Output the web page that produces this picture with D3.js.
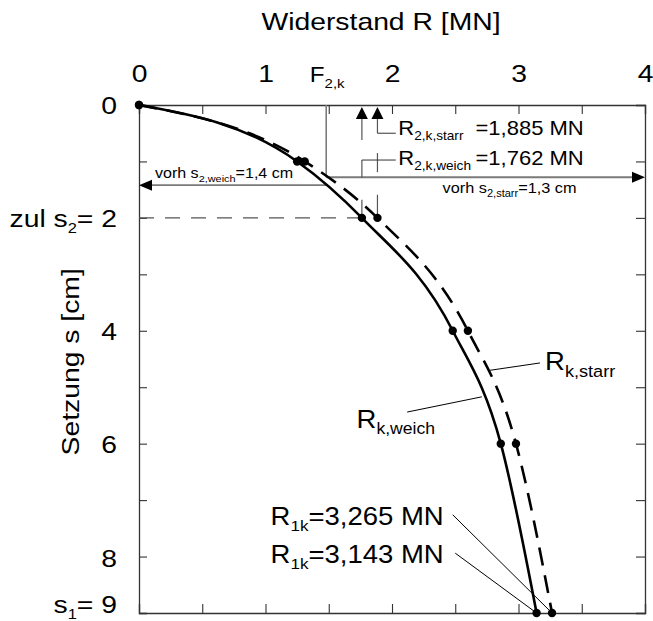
<!DOCTYPE html>
<html><head><meta charset="utf-8">
<script src="https://cdn.jsdelivr.net/npm/d3@7"></script>
<style>
html,body{margin:0;padding:0;background:#fff;}
svg{display:block;font-family:"Liberation Sans",Arial,sans-serif;}
</style></head>
<body><svg id="c" width="653" height="621"></svg>
<script>
// ---- data ----
const sValues = [0, 1, 2, 4, 6, 9];                  // Setzung s [cm]
const rWeich  = [0, 1.25, 1.762, 2.48, 2.86, 3.143]; // R_k,weich [MN]
const rStarr  = [0, 1.31, 1.885, 2.60, 2.98, 3.265]; // R_k,starr [MN]
const xTickValues = [0, 0.5, 1, 1.5, 2, 2.5, 3, 3.5, 4];
const xTickLabels = ["0", "1", "2", "3", "4"];
const yTickValues = [0, 1, 2, 3, 4, 5, 6, 7, 8, 9];
const yLabelValues = [0, 2, 4, 6, 8, 9];
const yLabelTexts = [[["0"]], [["zul s"], ["2", 1], ["= 2"]], [["4"]], [["6"]], [["8"]], [["s"], ["1", 1], ["= 9"]]];
const F2k = 1.48, R2kWeich = 1.762, R2kStarr = 1.885, R1kWeich = 3.143, R1kStarr = 3.265;
const sVorhWeich = 1.42, sVorhStarr = 1.28, zulS2 = 2, s1 = 9;

// ---- setup ----
const SX = 1.1, SXT = 1.18;
const svg = d3.select("#c");
const x = d3.scaleLinear().domain([0, 4]).range([139, 645]);
const y = d3.scaleLinear().domain([0, 9]).range([105, 613]);
const axisColor = "#333", gray = "#7a7a7a";

function label(px, py, parts, size, anchor = "start", sub = 0.62, sx = SX) {
  const t = svg.append("text")
    .attr("transform", `translate(${px},${py}) scale(${sx},1)`)
    .attr("font-size", size).attr("text-anchor", anchor).attr("fill", "#000");
  let shifted = false;
  parts.forEach(([str, isSub]) => {
    const ts = t.append("tspan").text(str);
    if (isSub && !shifted) { ts.attr("font-size", size * sub).attr("dy", size * 0.26); shifted = true; }
    else if (isSub) { ts.attr("font-size", size * sub); }
    else if (!isSub && shifted) { ts.attr("dy", -size * 0.26); shifted = false; }
  });
  return t;
}

// ---- axes ----
const gTop = svg.append("g").attr("transform", `translate(0,${y(0)})`)
  .call(d3.axisTop(x).tickValues(xTickValues).tickSize(-9).tickPadding(23)
    .tickFormat(d => Number.isInteger(d) ? xTickLabels[d] : ""));
const gBot = svg.append("g").attr("transform", `translate(0,${y(9)})`)
  .call(d3.axisBottom(x).tickValues(xTickValues).tickSize(-9).tickFormat(""));
const gLeft = svg.append("g").attr("transform", `translate(${x(0)},0)`)
  .call(d3.axisLeft(y).tickValues(yTickValues).tickSize(-8).tickFormat(""));
const gRight = svg.append("g").attr("transform", `translate(${x(4)},0)`)
  .call(d3.axisRight(y).tickValues(yTickValues).tickSize(-9).tickFormat(""));
[gTop, gBot, gLeft, gRight].forEach(g => {
  g.select(".domain").attr("stroke", axisColor).attr("stroke-width", 1.3);
  g.selectAll(".tick line").attr("stroke", axisColor).attr("stroke-width", 1.1);
});
gTop.selectAll(".tick text").attr("font-size", 24).attr("font-family", "Liberation Sans, Arial")
  .attr("fill", "#000").attr("transform", `scale(${SXT},1)`);

// F2,k top label
label(x(F2k) + 1, y(0) - 23, [["F"], ["2,k", 1]], 22, "middle", 0.62, SX);

// left labels
const yOff = [9, 9, 9, 9, 10, 0];
yLabelValues.forEach((v, i) => label(x(0) - 22, y(v) + yOff[i], yLabelTexts[i], 24, "end", 0.58, SXT));

// titles
label(381, 30, [["Widerstand R [MN]"]], 24, "middle", 0.62, SXT);
svg.append("text").attr("transform", `translate(79,${y(4.55)}) rotate(-90) scale(${SXT},1)`)
  .attr("text-anchor", "middle").attr("font-size", 24).text("Setzung s [cm]");

// ---- annotations (behind curves) ----
const ann = svg.append("g");
ann.append("line").attr("x1", x(0)).attr("x2", x(R2kWeich)).attr("y1", y(zulS2)).attr("y2", y(zulS2))
  .attr("stroke", "#555").attr("stroke-width", 1.2).attr("stroke-dasharray", "15,11");
ann.append("line").attr("x1", x(F2k)).attr("x2", x(F2k)).attr("y1", y(0)).attr("y2", y(sVorhStarr))
  .attr("stroke", gray).attr("stroke-width", 1.6);
ann.append("line").attr("x1", x(F2k)).attr("x2", x(4) - 12).attr("y1", y(sVorhStarr)).attr("y2", y(sVorhStarr))
  .attr("stroke", gray).attr("stroke-width", 1.8);
ann.append("path").attr("d", `M${x(4)},${y(sVorhStarr)} l-13,-5.5 l0,11 z`).attr("fill", "#000");
ann.append("line").attr("x1", x(F2k)).attr("x2", x(0) + 12).attr("y1", y(sVorhWeich)).attr("y2", y(sVorhWeich))
  .attr("stroke", gray).attr("stroke-width", 1.8);
ann.append("path").attr("d", `M${x(0)},${y(sVorhWeich)} l13,-5.5 l0,11 z`).attr("fill", "#000");

const segW = [[0.1, 0.62], [0.975, 1.29], [1.68, 2]];
const segS = [[0.1, 0.50], [0.85, 1.19], [1.59, 2]];
segW.forEach(([a, b]) => ann.append("line").attr("x1", x(R2kWeich)).attr("x2", x(R2kWeich)).attr("y1", y(a)).attr("y2", y(b)).attr("stroke", "#555").attr("stroke-width", 1.2));
segS.forEach(([a, b]) => ann.append("line").attr("x1", x(R2kStarr)).attr("x2", x(R2kStarr)).attr("y1", y(a)).attr("y2", y(b)).attr("stroke", "#555").attr("stroke-width", 1.2));
[R2kWeich, R2kStarr].forEach(r => ann.append("path")
  .attr("d", `M${x(r)},${y(0) + 2} l-6,12 l12,0 z`).attr("fill", "#000"));
ann.append("line").attr("x1", x(R2kStarr)).attr("x2", x(2.03)).attr("y1", y(0.50)).attr("y2", y(0.50)).attr("stroke", "#333").attr("stroke-width", 1);
ann.append("line").attr("x1", x(R2kWeich)).attr("x2", x(2.03)).attr("y1", y(0.975)).attr("y2", y(0.975)).attr("stroke", "#333").attr("stroke-width", 1);

label(x(2.05), y(0.53), [["R"], ["2,k,starr", 1]], 20);
label(x(2.66), y(0.53), [["=1,885 MN"]], 20);
label(x(2.05), y(1.06), [["R"], ["2,k,weich", 1]], 20);
label(x(2.66), y(1.06), [["=1,762 MN"]], 20);
label(x(0.126), y(1.29), [["vorh s"], ["2,weich", 1], ["=1,4 cm"]], 14.6, "start", 0.68);
label(x(2.40), y(1.56), [["vorh s"], ["2,starr", 1], ["=1,3 cm"]], 14.8, "start", 0.68);

ann.append("line").attr("x1", x(2.775)).attr("y1", y(4.70)).attr("x2", x(3.17)).attr("y2", y(4.57)).attr("stroke", "#000").attr("stroke-width", 1);
ann.append("line").attr("x1", x(2.12)).attr("y1", y(5.44)).attr("x2", x(2.71)).attr("y2", y(5.17)).attr("stroke", "#000").attr("stroke-width", 1);
label(x(3.21), y(4.70), [["R"], ["k,starr", 1]], 25, "start", 0.66);
label(x(1.72), y(5.72), [["R"], ["k,weich", 1]], 25, "start", 0.64);

ann.append("line").attr("x1", x(2.48)).attr("y1", y(7.26)).attr("x2", x(R1kStarr)).attr("y2", y(s1)).attr("stroke", "#000").attr("stroke-width", 1);
ann.append("line").attr("x1", x(2.50)).attr("y1", y(7.94)).attr("x2", x(R1kWeich)).attr("y2", y(s1)).attr("stroke", "#000").attr("stroke-width", 1);
label(x(1.04), y(7.44), [["R"], ["1k", 1], ["=3,265 MN"]], 25, "start", 0.62);
label(x(1.04), y(8.11), [["R"], ["1k", 1], ["=3,143 MN"]], 25, "start", 0.62);

// ---- curves ----
const line = d3.line().x(d => x(d[0])).y(d => y(d[1])).curve(d3.curveMonotoneX);
const weich = rWeich.map((r, i) => [r, sValues[i]]);
const starr = rStarr.map((r, i) => [r, sValues[i]]);
svg.append("path").datum(starr).attr("d", line).attr("fill", "none").attr("stroke", "#000")
  .attr("stroke-width", 2.6).attr("stroke-dasharray", "18,10");
svg.append("path").datum(weich).attr("d", line).attr("fill", "none").attr("stroke", "#000")
  .attr("stroke-width", 2.6);
svg.selectAll("circle.w").data(weich).enter().append("circle").attr("class", "w")
  .attr("cx", d => x(d[0])).attr("cy", d => y(d[1])).attr("r", 4.2).attr("fill", "#000");
svg.selectAll("circle.s").data(starr).enter().append("circle").attr("class", "s")
  .attr("cx", d => x(d[0])).attr("cy", d => y(d[1])).attr("r", 4.2).attr("fill", "#000");
</script></body></html>
